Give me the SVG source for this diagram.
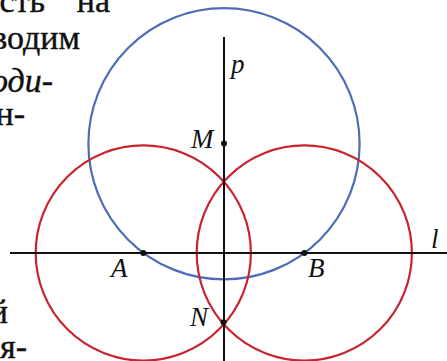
<svg xmlns="http://www.w3.org/2000/svg" width="447" height="361" viewBox="0 0 447 361">
<style>
.page{font-family:"Liberation Serif","DejaVu Serif",serif;font-size:34px;fill:#111;stroke:#111;stroke-width:0.4;}
.it{font-style:italic;}
.lbl{font-family:"Liberation Serif","DejaVu Serif",serif;font-style:italic;font-size:27px;fill:#111;}
.red{fill:none;stroke:#c8232f;stroke-width:2.2;}
.blue{fill:none;stroke:#4d6cb6;stroke-width:2.2;}
.ln{stroke:#111;stroke-width:2;fill:none;}
.pt{fill:#111;}
</style>
<rect width="447" height="361" fill="#fff"/>
<g id="page-text" class="page" text-anchor="end">
<text x="45" y="12">ость</text>
<text x="110" y="12">на</text>
<text x="80" y="49">водим</text>
<text x="53" y="92" class="it">оди-</text>
<text x="25" y="125">н-</text>
<text x="8" y="323">й</text>
<text x="27" y="358">я-</text>
</g>
<g id="circles">
<circle id="circle-blue" class="blue" cx="224" cy="143.8" r="135.6"/>
<circle id="circle-left" class="red" cx="143.3" cy="253" r="107.6"/>
<circle id="circle-right" class="red" cx="304.3" cy="253" r="107.6"/>
</g>
<g id="connectors">
<line id="line-l" class="ln" x1="10" y1="253" x2="447" y2="253"/>
<line id="line-p" class="ln" x1="224" y1="37" x2="224" y2="361"/>
</g>
<g id="node-M"><circle class="pt" cx="224" cy="143.5" r="3"/><text class="lbl" x="191" y="148">M</text></g>
<g id="node-A"><circle class="pt" cx="143.3" cy="253" r="3"/><text class="lbl" x="111" y="277">A</text></g>
<g id="node-B"><circle class="pt" cx="304.3" cy="253" r="3"/><text class="lbl" x="308" y="277">B</text></g>
<g id="node-N"><circle class="pt" cx="223.5" cy="322.3" r="3"/><text class="lbl" x="190" y="326">N</text></g>
<g id="label-p"><text class="lbl" x="231" y="73">p</text></g>
<g id="label-l"><text class="lbl" x="431" y="248">l</text></g>
</svg>
